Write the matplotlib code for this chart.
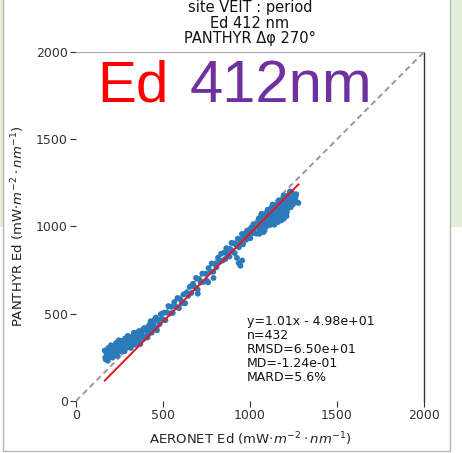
import matplotlib
matplotlib.use("Agg")
import matplotlib.pyplot as plt
from matplotlib.patches import Rectangle
import numpy as np

# ---- data ----
aeronet_ed = [
    165, 171, 177, 183, 189, 195, 201, 207, 213, 219, 225, 231, 237, 243, 249, 255, 261, 267, 273, 279, 285, 291, 297,
    168, 174, 180, 186, 192, 198, 204, 210, 216, 222, 228, 234, 240, 246, 252, 258, 264, 270, 276, 282, 288, 294,
    303, 309, 315, 321, 327, 333, 339, 345, 351, 357, 363, 369, 375, 381, 387, 393, 399, 405, 411, 417, 423, 429,
    435, 441, 447, 453, 459, 465,
    306, 318, 330, 342, 354, 366, 378, 390, 402, 414, 426, 438, 450, 462,
    472, 480, 488, 497, 505, 514, 522, 531, 540, 548, 556, 565, 574, 583, 592, 600, 609, 618, 627, 636, 645, 654,
    663, 672, 681, 690, 699, 708, 717, 726, 735, 744, 753, 762, 771, 780, 789, 798, 807, 816, 825, 834, 843,
    760, 790, 700,
    852, 858, 864, 870, 876, 882, 888, 894, 900, 906, 912, 918, 924, 930, 936, 942, 948, 954, 960, 966, 972, 978,
    984, 990, 996, 1002, 1008, 1014, 1020, 1026, 1032, 1038, 1044, 935, 945, 955, 925,
    1050, 1054, 1058, 1062, 1066, 1070, 1074, 1078, 1082, 1086, 1090, 1094, 1098, 1102, 1106, 1110, 1114,
    1118, 1122, 1126, 1130, 1134, 1138, 1142, 1146, 1150, 1154, 1158, 1162, 1166, 1170, 1174, 1178, 1182,
    1186, 1190, 1194, 1198, 1202, 1206, 1210, 1214, 1218, 1222, 1226, 1230, 1234, 1238, 1242, 1246, 1250,
    1052, 1056, 1060, 1064, 1068, 1072, 1076, 1080, 1084, 1088, 1092, 1096, 1100, 1104, 1108, 1112,
    1116, 1120, 1124, 1128, 1132, 1136, 1140, 1144, 1148, 1152, 1156, 1160, 1164, 1168, 1172, 1176,
    1180, 1184, 1188, 1192, 1196, 1200, 1204, 1208, 1212, 1216, 1220, 1224, 1228, 1232, 1236, 1240,
    1262, 1270, 1278, 1258, 1266, 1160, 1180, 1195, 1140, 1210,
]
panthyr_ed = [
    289, 238, 274, 231, 295, 268, 319, 253, 288, 307, 277, 332, 258, 315, 302, 338, 343, 291, 328, 285, 348, 322, 373,
    249, 279, 238, 304, 274, 258, 306, 249, 298, 281, 324, 274, 306, 348, 290, 325, 282, 344, 315, 358, 306, 337,
    311, 347, 304, 367, 340, 391, 323, 358, 377, 346, 401, 326, 385, 374, 411, 418, 367, 405, 364, 429, 404, 457,
    392, 429, 450, 421, 478, 405,
    352, 323, 377, 345, 393, 352, 395, 357, 411, 385, 441, 412, 464, 418,
    465, 440, 498, 470, 506, 463, 506, 544, 502, 540, 505, 567, 540, 590, 532, 582, 561, 611, 560, 621, 603, 654,
    619, 671, 654, 705, 639, 698, 679, 730, 683, 729, 688, 762, 739, 788, 741, 786, 767, 821, 799, 844, 805,
    680, 705, 615,
    851, 814, 876, 839, 867, 828, 869, 906, 859, 903, 848, 899, 891, 930, 881, 926, 906, 957, 898, 935, 959, 924,
    977, 947, 972, 933, 994, 962, 1013, 964, 998, 959, 1018, 790, 775, 805, 820,
    1045, 958, 1027, 990, 1073, 1012, 1053, 968, 1036, 1070, 1000, 1061, 1030, 1096, 1006, 1054, 1098,
    1011, 1079, 1043, 1126, 1064, 1105, 1021, 1089, 1122, 1052, 1114, 1082, 1148, 1059, 1107, 1150, 1063,
    1132, 1095, 1178, 1117, 1158, 1073, 1141, 1175, 1105, 1166, 1135, 1201, 1111, 1159, 1193, 1126, 1179,
    987, 1035, 971, 1062, 1015, 1035, 995, 1060, 978, 1054, 1048, 1015, 1084, 1038, 1075, 1008,
    1039, 1088, 1024, 1114, 1068, 1088, 1047, 1112, 1031, 1107, 1100, 1068, 1137, 1090, 1127, 1061,
    1092, 1140, 1076, 1167, 1120, 1140, 1099, 1165, 1083, 1159, 1153, 1120, 1189, 1142, 1180, 1131,
    1170, 1140, 1135, 1150, 1185, 1025, 1035, 1045, 1010, 1060,
]
fit_slope = 1.01
fit_intercept = -49.8
stats_lines = ["y=1.01x - 4.98e+01", "n=432", "RMSD=6.50e+01", "MD=-1.24e-01", "MARD=5.6%"]
title_lines = ["site VEIT : period", "Ed 412 nm", "PANTHYR \u0394\u03c6 270\u00b0"]
ticks = [0, 500, 1000, 1500, 2000]

W, H = 462, 453
fig = plt.figure(figsize=(W / 100, H / 100), dpi=100)
fig.patch.set_facecolor("white")

# slide background + white panel
fig.patches.append(Rectangle((0, 1 - 227 / H), 1, 227 / H, transform=fig.transFigure,
                             facecolor="#e2efd9", edgecolor="none", zorder=-20))
fig.patches.append(Rectangle((3 / W, 1 - 451 / H), 447 / W, 451 / H + 0.05, transform=fig.transFigure,
                             facecolor="white", edgecolor="#b8b8b8", lw=1.0, zorder=-10))

ax = fig.add_axes([76 / W, 1 - 401 / H, 348 / W, 349 / H])
ax.set_facecolor("white")

x = np.array(aeronet_ed, dtype=float)
y = np.array(panthyr_ed, dtype=float)

ax.plot([ticks[0], ticks[-1]], [ticks[0], ticks[-1]], ls="--", color="#999999", lw=1.4,
        dashes=(3, 2), zorder=1)
ax.scatter(x, y, s=18, color="#2b7bba", edgecolors="none", zorder=2)
xf = np.array([x.min(), x.max()])
ax.plot(xf, fit_slope * xf + fit_intercept, color="#e8141e", lw=1.4, zorder=3)

ax.set_xlim(0, 2000)
ax.set_ylim(0, 2000)
ax.set_xticks(ticks)
ax.set_yticks(ticks)
ax.tick_params(axis="both", labelsize=9, colors="#333333", length=4, width=0.8, pad=2)
for s in ["left", "bottom"]:
    ax.spines[s].set_visible(False)
ax.spines["top"].set_color("#aaaaaa")
ax.spines["top"].set_linewidth(0.8)
ax.spines["right"].set_color("#333333")
ax.spines["right"].set_linewidth(1.0)

ax.set_xlabel(r"AERONET Ed (mW$\cdot m^{-2}\cdot nm^{-1}$)", fontsize=9.5, color="#222222", labelpad=6)
ax.set_ylabel(r"PANTHYR Ed (mW$\cdot m^{-2}\cdot nm^{-1}$)", fontsize=9.5, color="#222222", labelpad=6)

ax.text(0.49, 0.245, "\n".join(stats_lines), transform=ax.transAxes, fontsize=9, va="top",
        ha="left", linespacing=1.1, color="#111111")

for i, t in enumerate(title_lines):
    fig.text(250 / W, 1 - (7.5 + 15.5 * i) / H, t, ha="center", va="center", fontsize=10.5,
             color="#111111")

fig.text(97 / W, 1 - 102 / H, "Ed", fontsize=42, color="#ff0000", family="Liberation Sans",
         ha="left", va="baseline")
fig.text(190 / W, 1 - 102 / H, "412nm", fontsize=43, color="#7030a0", family="Liberation Sans",
         ha="left", va="baseline")

fig.savefig("out.png", dpi=100)
